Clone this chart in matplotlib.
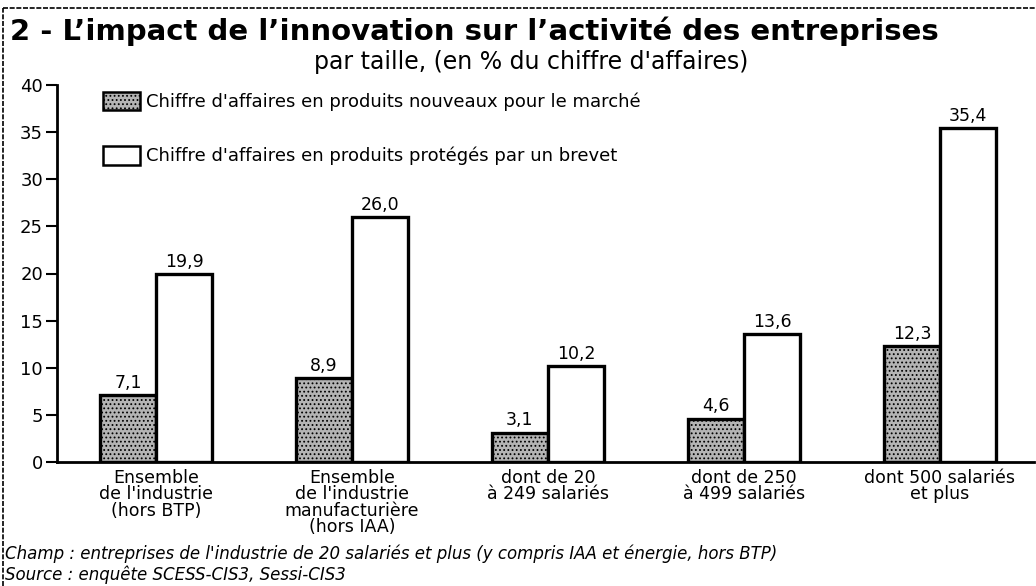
import matplotlib
matplotlib.use("Agg")
import matplotlib.pyplot as plt
import numpy as np
from matplotlib.lines import Line2D
from matplotlib.patches import Rectangle

plt.rcParams["font.family"] = ["DejaVu Sans"]
plt.rcParams["hatch.color"] = "#7a7a7a"
plt.rcParams["hatch.linewidth"] = 0.8

categories = [
    "Ensemble\nde l'industrie\n(hors BTP)",
    "Ensemble\nde l'industrie\nmanufacturière\n(hors IAA)",
    "dont de 20\nà 249 salariés",
    "dont de 250\nà 499 salariés",
    "dont 500 salariés\net plus",
]
nouveaux = [7.1, 8.9, 3.1, 4.6, 12.3]
brevet = [19.9, 26.0, 10.2, 13.6, 35.4]
series_labels = [
    "Chiffre d'affaires en produits nouveaux pour le marché",
    "Chiffre d'affaires en produits protégés par un brevet",
]

W, H = 1036, 586
fig = plt.figure(figsize=(W / 100, H / 100), dpi=100)
ax = fig.add_axes([57 / W, 1 - 462 / H, (1034 - 57) / W, (462 - 85) / H])


def fx(px):
    return px / W


def fy(py):
    return 1 - py / H


def fmt(v):
    return f"{v:.1f}".replace(".", ",")


x = np.arange(len(categories))
width = 0.286
ax.bar(x - width / 2, nouveaux, width, facecolor="#b4b4b4", edgecolor="black",
       linewidth=2.4, hatch="....", zorder=3)
ax.bar(x + width / 2, brevet, width, facecolor="white", edgecolor="black",
       linewidth=2.4, zorder=3)

for xi, v in zip(x - width / 2, nouveaux):
    ax.text(xi, v + 0.35, fmt(v), ha="center", va="bottom", fontsize=12.5)
for xi, v in zip(x + width / 2, brevet):
    ax.text(xi, v + 0.35, fmt(v), ha="center", va="bottom", fontsize=12.5)

ax.set_xlim(-0.505, 4.48)
ax.set_ylim(0, 40)
ax.set_yticks(range(0, 41, 5))
ax.tick_params(axis="y", labelsize=13, length=8, width=1.5, direction="out", pad=2)
ax.set_xticks(x)
ax.set_xticklabels(categories, fontsize=12.5, linespacing=0.88, va="top")
ax.tick_params(axis="x", length=0, pad=5)
for side in ["top", "right"]:
    ax.spines[side].set_visible(False)
ax.spines["left"].set_linewidth(2)
ax.spines["bottom"].set_linewidth(2)

# legend: patches + text
fig.patches.append(Rectangle((fx(103), fy(110)), fx(140) - fx(103), fy(92) - fy(110),
                             transform=fig.transFigure, facecolor="#b4b4b4",
                             edgecolor="black", linewidth=1.8, hatch="...."))
fig.patches.append(Rectangle((fx(103), fy(165)), fx(140) - fx(103), fy(146) - fy(165),
                             transform=fig.transFigure, facecolor="white",
                             edgecolor="black", linewidth=1.8))
fig.text(fx(146), fy(102), series_labels[0], fontsize=13, va="center")
fig.text(fx(146), fy(156), series_labels[1], fontsize=13, va="center")

fig.text(fx(10), fy(31), "2 - L\u2019impact de l\u2019innovation sur l\u2019activité des entreprises",
         fontsize=21, fontweight="bold", va="center")
fig.text(fx(531), fy(62), "par taille, (en % du chiffre d'affaires)", fontsize=17,
         ha="center", va="center")
fig.text(fx(5), fy(554), "Champ : entreprises de l'industrie de 20 salariés et plus "
         "(y compris IAA et énergie, hors BTP)", fontsize=12, style="italic", va="center")
fig.text(fx(5), fy(575), "Source : enquête SCESS-CIS3, Sessi-CIS3", fontsize=12,
         style="italic", va="center")

# dotted frame on top and left
fig.lines.append(Line2D([fx(3), fx(3)], [0, fy(8)], transform=fig.transFigure,
                        color="black", linewidth=1.2, linestyle=(0, (3, 1))))
fig.lines.append(Line2D([fx(3), 1], [fy(8), fy(8)], transform=fig.transFigure,
                        color="black", linewidth=1.2, linestyle=(0, (3, 1))))

fig.savefig("out.png", dpi=100)
